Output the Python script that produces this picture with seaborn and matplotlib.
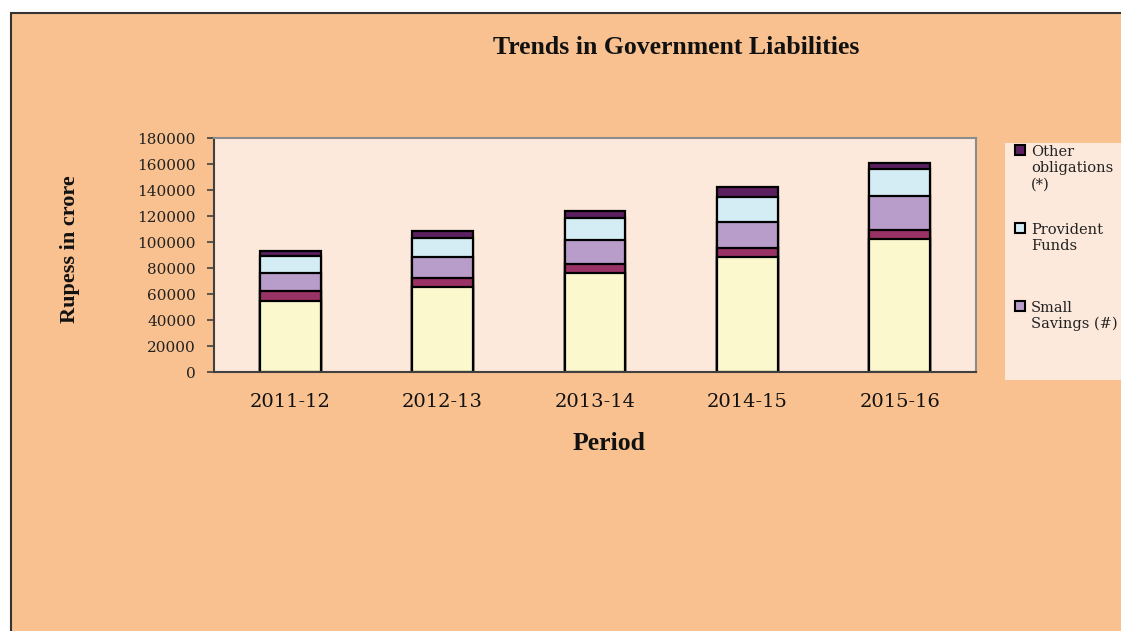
import numpy as np
import pandas as pd
import matplotlib
matplotlib.use("Agg")
import matplotlib.pyplot as plt
from matplotlib.patches import Rectangle, Patch
import seaborn as sns

# Values (Rs. crore), bottom segment first
periods = ["2011-12", "2012-13", "2013-14", "2014-15", "2015-16"]
internal_debt = [54900, 65400, 76400, 88700, 102500]
loans_centre = [7200, 7100, 6900, 6900, 6900]
small_savings = [13800, 15700, 18000, 20000, 26100]
provident_funds = [13300, 15100, 17400, 19300, 20800]
other_obligations = [3800, 5200, 5400, 7200, 4200]

series_names = ["Internal Debt", "Loans and Advances from Central Government",
                "Small Savings (#)", "Provident Funds", "Other obligations (*)"]
series_colors = ["#FCF8CE", "#993366", "#B89CCA", "#D4ECF4", "#5C1F60"]
y_ticks = [0, 20000, 40000, 60000, 80000, 100000, 120000, 140000, 160000, 180000]

df = pd.DataFrame(
    [internal_debt, loans_centre, small_savings, provident_funds, other_obligations],
    index=series_names, columns=periods,
)
# cumulative tops so the stacks can be drawn as overlaid bars (tallest first)
tops = df.cumsum(axis=0)

sns.set_theme(style="white")
plt.rcParams['font.family'] = ['DejaVu Serif', 'DejaVu Sans']

fig = plt.figure(figsize=(11.21, 6.31), dpi=100)
fig.patch.set_facecolor("white")
# orange panel with dark border on top and left
fig.add_artist(Rectangle((11 / 1121, -0.02), 1.02, 1 - 13 / 631 + 0.02,
                         transform=fig.transFigure, facecolor="#F9C190",
                         edgecolor="#333333", linewidth=1.5, zorder=-2))

ax = fig.add_axes([214 / 1121, 1 - 372 / 631, 762 / 1121, 234 / 631])
ax.set_facecolor("#FDE9DB")

for name, color in reversed(list(zip(series_names, series_colors))):
    sns.barplot(x=periods, y=tops.loc[name].values, color=color, width=0.4,
                edgecolor="black", linewidth=1.6, saturation=1, ax=ax,
                errorbar=None)

ax.set_ylim(0, 180000)
ax.set_xlim(-0.5, len(periods) - 0.5)
ax.set_yticks(y_ticks)
ax.set_yticklabels([str(v) for v in y_ticks], fontsize=11, color="#222222")
ax.set_xticks(range(len(periods)))
ax.set_xticklabels(periods, fontsize=14, color="#111111")
ax.set_xticks(np.arange(-0.5, len(periods)), minor=True)
ax.tick_params(axis="x", which="major", length=0, pad=15)
ax.tick_params(axis="x", which="minor", length=5, width=1.2, color="#404040", direction="out")
ax.tick_params(axis="y", length=5, width=1.2, color="#404040", direction="out", pad=8, left=True)
ax.set_xlabel("")
ax.set_ylabel("")
for side in ["left", "bottom"]:
    ax.spines[side].set_color("#404040")
    ax.spines[side].set_linewidth(1.5)
for side in ["top", "right"]:
    ax.spines[side].set_color("#8C8C8C")
    ax.spines[side].set_linewidth(1.5)

fig.text(676 / 1121, 1 - 47 / 631, "Trends in Government Liabilities",
         ha="center", va="center", fontsize=18.5, fontweight="bold",
         family="Liberation Serif", color="#111111")
fig.text(70 / 1121, 1 - 249 / 631, "Rupess in crore", rotation=90,
         ha="center", va="center", fontsize=16, fontweight="bold",
         family="Liberation Serif", color="#111111")
fig.text(609 / 1121, 1 - 443 / 631, "Period", ha="center", va="center",
         fontsize=18.5, fontweight="bold", family="Liberation Serif", color="#111111")

# legend box (clipped at the right edge, as in the source)
fig.add_artist(Rectangle((1005 / 1121, 1 - 380 / 631), 0.2, (380 - 143) / 631,
                         transform=fig.transFigure, facecolor="#FDE9DB",
                         edgecolor="none", zorder=-1))
legend_labels = ["Other\nobligations\n(*)", "Provident\nFunds\n ", "Small\nSavings (#)\n "]
legend_colors = [series_colors[4], series_colors[3], series_colors[2]]
handles = [Patch(facecolor=c, edgecolor="black", linewidth=1.5) for c in legend_colors]
leg = fig.legend(handles, legend_labels, loc="upper left",
                 bbox_to_anchor=(1015 / 1121, 1 - 145 / 631), frameon=False,
                 fontsize=10.5, handlelength=0.7, handleheight=0.7,
                 handletextpad=0.4, labelspacing=2.15, borderpad=0,
                 borderaxespad=0)
for col in leg._legend_handle_box.get_children():
    for row in col.get_children():
        row.align = "top"
for t in leg.get_texts():
    t.set_color("#222222")

fig.savefig("out.png", dpi=100, facecolor=fig.get_facecolor())
